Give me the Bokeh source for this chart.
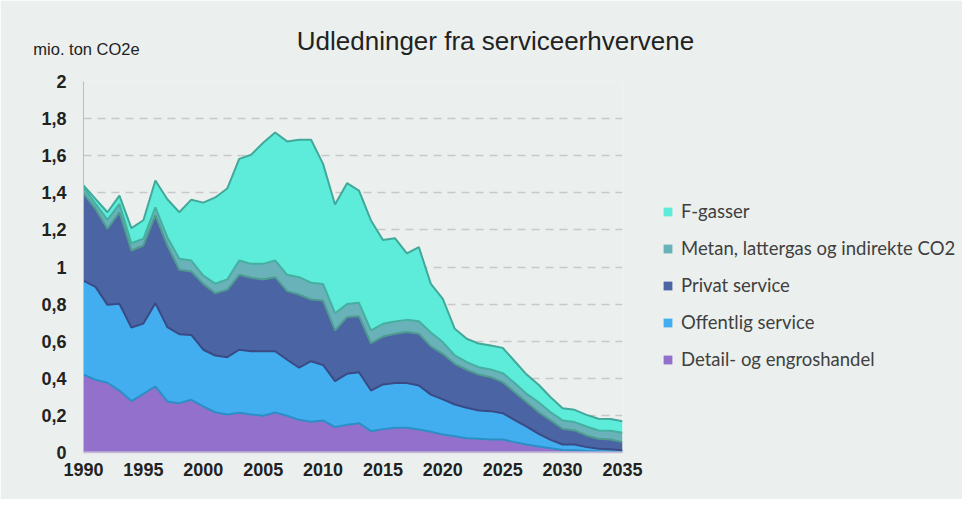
from bokeh.plotting import figure
from bokeh.models import (ColumnDataSource, Legend, LegendItem, FixedTicker, LinearAxis, Range1d)
from bokeh.embed import file_html
from bokeh.resources import INLINE

years = list(range(1990, 2036))

detail = [0.420, 0.392, 0.376, 0.334, 0.277, 0.316, 0.357, 0.275, 0.266, 0.284,
          0.248, 0.217, 0.205, 0.214, 0.205, 0.198, 0.216, 0.198, 0.176, 0.166,
          0.173, 0.137, 0.149, 0.158, 0.115, 0.126, 0.133, 0.133, 0.124, 0.112,
          0.097, 0.088, 0.077, 0.074, 0.070, 0.070, 0.056, 0.043, 0.032, 0.023,
          0.014, 0.012, 0.008, 0.006, 0.005, 0.004]
offentlig = [0.507, 0.501, 0.420, 0.468, 0.397, 0.379, 0.448, 0.401, 0.372, 0.350,
             0.306, 0.306, 0.309, 0.340, 0.341, 0.348, 0.330, 0.302, 0.281, 0.326,
             0.299, 0.248, 0.275, 0.275, 0.219, 0.241, 0.241, 0.241, 0.237, 0.200,
             0.189, 0.171, 0.164, 0.152, 0.153, 0.142, 0.119, 0.097, 0.068, 0.045,
             0.029, 0.031, 0.021, 0.014, 0.012, 0.008]
privat = [0.468, 0.420, 0.410, 0.493, 0.415, 0.421, 0.473, 0.440, 0.347, 0.342,
          0.355, 0.336, 0.363, 0.404, 0.396, 0.387, 0.399, 0.370, 0.395, 0.333,
          0.347, 0.273, 0.306, 0.302, 0.255, 0.258, 0.266, 0.275, 0.279, 0.260,
          0.246, 0.219, 0.205, 0.194, 0.183, 0.167, 0.150, 0.131, 0.117, 0.105,
          0.085, 0.076, 0.063, 0.054, 0.053, 0.044]
metan = [0.035, 0.027, 0.048, 0.045, 0.039, 0.036, 0.044, 0.045, 0.059, 0.059,
         0.045, 0.051, 0.056, 0.077, 0.075, 0.084, 0.090, 0.088, 0.093, 0.090,
         0.090, 0.093, 0.070, 0.072, 0.069, 0.069, 0.066, 0.066, 0.068, 0.075,
         0.063, 0.045, 0.041, 0.040, 0.041, 0.049, 0.050, 0.045, 0.054, 0.044,
         0.045, 0.045, 0.048, 0.045, 0.047, 0.050]
fgasser = [0.010, 0.027, 0.041, 0.045, 0.082, 0.100, 0.144, 0.204, 0.251, 0.328,
           0.393, 0.465, 0.490, 0.548, 0.588, 0.653, 0.690, 0.719, 0.741, 0.771,
           0.647, 0.586, 0.652, 0.605, 0.593, 0.452, 0.449, 0.359, 0.399, 0.262,
           0.233, 0.144, 0.126, 0.127, 0.130, 0.136, 0.117, 0.104, 0.094, 0.081,
           0.066, 0.066, 0.063, 0.063, 0.063, 0.063]

series_keys = ["detail", "offentlig", "privat", "metan", "fgasser"]
series_names = ["Detail- og engroshandel", "Offentlig service", "Privat service",
                "Metan, lattergas og indirekte CO2", "F-gasser"]
fill_colors = ["#9370CC", "#43AEEF", "#4B64A3", "#6AB2B9", "#5DEBDA"]
line_colors = ["#2B8FC6", "#3A4A85", "#4E9C90", "#45AFA0", "#41A89A"]

x_ticks = [1990, 1995, 2000, 2005, 2010, 2015, 2020, 2025, 2030, 2035]
y_ticks = [0, 0.2, 0.4, 0.6, 0.8, 1.0, 1.2, 1.4, 1.6, 1.8, 2.0]
y_tick_labels = ["0", "0,2", "0,4", "0,6", "0,8", "1", "1,2", "1,4", "1,6", "1,8", "2"]

title_text = "Udledninger fra serviceerhvervene"
unit_text = "mio. ton CO2e"

BG = "#EBF0EE"
FRAME_W, FRAME_H = 539, 371

src = ColumnDataSource(dict(year=years, detail=detail, offentlig=offentlig,
                            privat=privat, metan=metan, fgasser=fgasser))

p = figure(frame_width=FRAME_W, frame_height=FRAME_H, x_range=(1990, 2035), y_range=(0, 2),
           output_backend="svg", toolbar_location=None,
           min_border_left=83, min_border_top=81, min_border_bottom=47, min_border_right=0)
p.background_fill_color = BG
p.border_fill_color = BG
p.outline_line_color = None

areas = p.varea_stack(stackers=series_keys, x="year", color=fill_colors, source=src)
# boundary lines: each boundary is drawn in the outline colour of the upper layer
p.vline_stack(stackers=series_keys, x="year", line_color=line_colors, line_width=2, source=src)
p.line(x="year", y=0, line_color="#C4BCD6", line_width=2, source=src)

p.xgrid.grid_line_color = None
p.ygrid.ticker = FixedTicker(ticks=y_ticks[1:])
p.ygrid.grid_line_color = "#C8C8C8"
p.ygrid.grid_line_dash = "8 6"
p.ygrid.grid_line_width = 1.3

p.xaxis.ticker = FixedTicker(ticks=x_ticks)
p.yaxis.ticker = FixedTicker(ticks=y_ticks)
p.yaxis.major_label_overrides = {t: l for t, l in zip(y_ticks, y_tick_labels)}
for ax in (p.xaxis, p.yaxis):
    ax.major_tick_line_color = None
    ax.minor_tick_line_color = None
    ax.major_label_text_font = "Liberation Sans"
    ax.major_label_text_font_style = "bold"
    ax.major_label_text_font_size = "18px"
    ax.major_label_text_color = "#222222"
p.xaxis.axis_line_color = "#C4BCD6"
p.xaxis.axis_line_width = 1.5
p.yaxis.axis_line_color = "#BDBDC8"
p.yaxis.axis_line_width = 1
p.xaxis.major_label_standoff = 4
p.yaxis.major_label_standoff = 11

items = [LegendItem(label=series_names[i], renderers=[areas[i]]) for i in range(4, -1, -1)]
legend = Legend(items=items, location=(30, 72), margin=0, padding=10,
                glyph_width=11, glyph_height=11, label_height=22, spacing=15,
                label_standoff=8, label_text_font="Lato", label_text_font_size="18.5px",
                label_text_color="#404040", background_fill_alpha=0, border_line_alpha=0)
p.add_layout(legend, "right")

# Header texts: carried as single tick labels of two unlined axes above the frame
p.extra_x_ranges = {"hdr": Range1d(0, FRAME_W)}
UNIT_POS, TITLE_POS = 3, 412


def header_axis(pos, text, size, standoff):
    ax = LinearAxis(x_range_name="hdr", ticker=FixedTicker(ticks=[pos]),
                    major_label_overrides={pos: text})
    ax.axis_line_color = None
    ax.major_tick_line_color = None
    ax.minor_tick_line_color = None
    ax.major_tick_in = 0
    ax.major_tick_out = 0
    ax.major_label_standoff = standoff
    ax.major_label_text_font = "Liberation Sans"
    ax.major_label_text_font_size = size
    ax.major_label_text_font_style = "normal"
    ax.major_label_text_color = "#222222"
    return ax


p.add_layout(header_axis(UNIT_POS, unit_text, "16.5px", 24), "above")
p.add_layout(header_axis(TITLE_POS, title_text, "26px", -19), "above")

open("out.html", "w").write(file_html(p, INLINE))
